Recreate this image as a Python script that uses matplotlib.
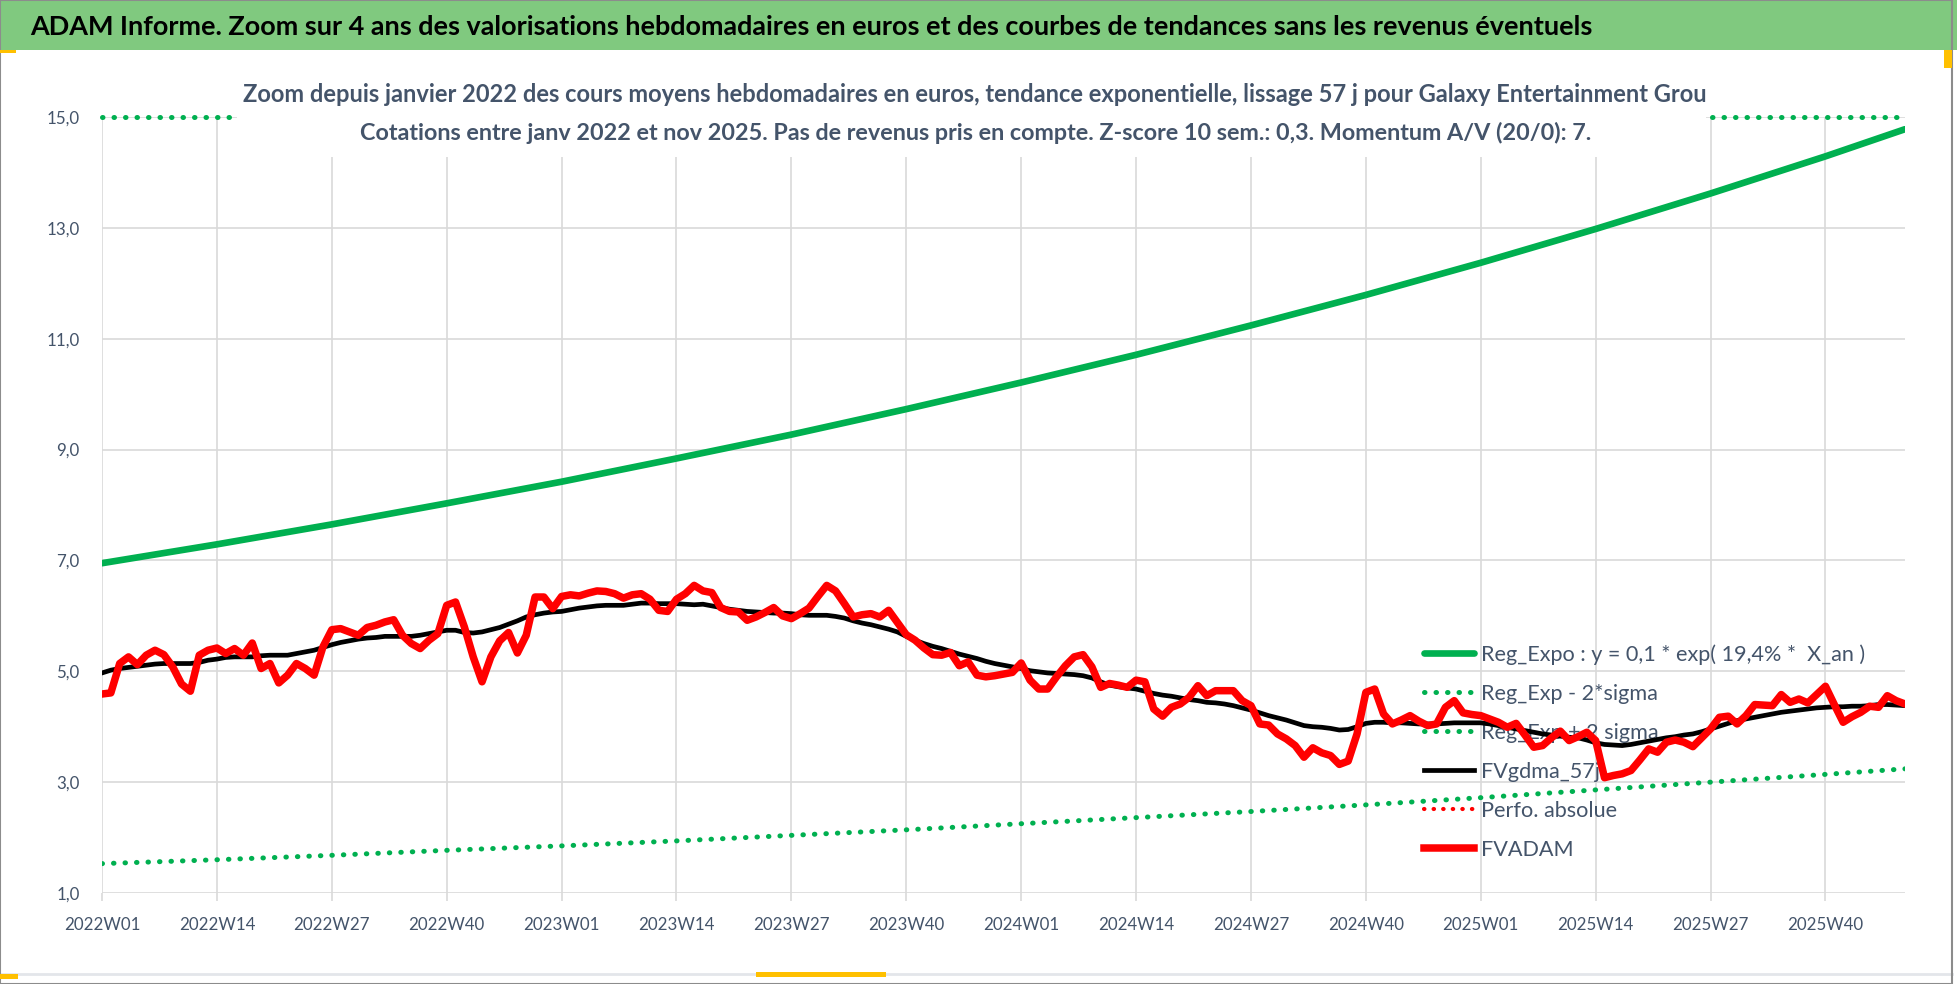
#!/usr/bin/env python
''' ADAM weekly valuation zoom chart '''
import matplotlib
matplotlib.use('Agg')
import matplotlib.pyplot as plt
from matplotlib.patches import Rectangle
import numpy as np

# weekly average prices (EUR), 2022W01 .. 2025W49
fvadam = [4.59, 4.61, 5.14, 5.26, 5.12, 5.29, 5.38, 5.30, 5.08, 4.77, 4.64, 5.29, 5.38,
          5.42, 5.32, 5.41, 5.29, 5.51, 5.05, 5.14, 4.79, 4.93, 5.14, 5.05, 4.93, 5.44,
          5.75, 5.77, 5.71, 5.65, 5.79, 5.83, 5.89, 5.93, 5.65, 5.50, 5.41, 5.56, 5.68,
          6.19, 6.25, 5.80, 5.26, 4.81, 5.26, 5.55, 5.70, 5.33, 5.65, 6.34, 6.34, 6.13,
          6.35, 6.38, 6.36, 6.41, 6.45, 6.44, 6.40, 6.32, 6.38, 6.40, 6.30, 6.10, 6.08,
          6.30, 6.40, 6.55, 6.45, 6.42, 6.15, 6.08, 6.07, 5.92, 5.98, 6.06, 6.15, 6.00,
          5.95, 6.04, 6.14, 6.35, 6.55, 6.45, 6.22, 5.98, 6.02, 6.04, 5.98, 6.10, 5.88,
          5.66, 5.56, 5.42, 5.30, 5.29, 5.34, 5.10, 5.17, 4.93, 4.90, 4.92, 4.95, 4.98,
          5.15, 4.84, 4.68, 4.68, 4.90, 5.10, 5.26, 5.30, 5.08, 4.71, 4.78, 4.75, 4.71,
          4.84, 4.81, 4.32, 4.19, 4.35, 4.41, 4.53, 4.74, 4.56, 4.65, 4.65, 4.65, 4.47,
          4.38, 4.05, 4.03, 3.87, 3.78, 3.66, 3.45, 3.62, 3.53, 3.48, 3.32, 3.38, 3.87,
          4.62, 4.68, 4.23, 4.05, 4.12, 4.20, 4.10, 4.02, 4.05, 4.35, 4.47, 4.25, 4.22,
          4.20, 4.14, 4.08, 3.99, 4.06, 3.85, 3.63, 3.66, 3.80, 3.92, 3.75, 3.82, 3.90,
          3.75, 3.08, 3.12, 3.15, 3.21, 3.40, 3.60, 3.54, 3.72, 3.76, 3.72, 3.64, 3.80,
          3.96, 4.17, 4.19, 4.05, 4.20, 4.40, 4.39, 4.38, 4.58, 4.44, 4.50, 4.43, 4.58,
          4.73, 4.40, 4.08, 4.18, 4.26, 4.37, 4.35, 4.56, 4.47, 4.41]

# 57 day smoothing
fvgdma = [4.97, 5.02, 5.05, 5.07, 5.09, 5.11, 5.13, 5.14, 5.14, 5.14, 5.14, 5.16, 5.20,
          5.22, 5.25, 5.26, 5.26, 5.26, 5.28, 5.29, 5.29, 5.29, 5.32, 5.35, 5.38, 5.43,
          5.48, 5.52, 5.55, 5.58, 5.60, 5.61, 5.63, 5.63, 5.63, 5.63, 5.65, 5.68, 5.71,
          5.74, 5.74, 5.70, 5.69, 5.71, 5.75, 5.79, 5.85, 5.91, 5.98, 6.02, 6.05, 6.07,
          6.08, 6.11, 6.14, 6.16, 6.18, 6.19, 6.19, 6.19, 6.21, 6.23, 6.23, 6.22, 6.22,
          6.22, 6.21, 6.20, 6.21, 6.18, 6.15, 6.12, 6.10, 6.08, 6.07, 6.06, 6.05, 6.05,
          6.04, 6.02, 6.01, 6.01, 6.01, 5.99, 5.96, 5.91, 5.87, 5.84, 5.80, 5.76, 5.71,
          5.63, 5.56, 5.50, 5.45, 5.41, 5.36, 5.31, 5.27, 5.23, 5.18, 5.14, 5.11, 5.08,
          5.05, 5.01, 4.99, 4.97, 4.96, 4.95, 4.94, 4.92, 4.88, 4.81, 4.75, 4.72, 4.70,
          4.68, 4.64, 4.60, 4.57, 4.55, 4.52, 4.49, 4.47, 4.44, 4.43, 4.41, 4.38, 4.34,
          4.30, 4.25, 4.20, 4.16, 4.12, 4.07, 4.02, 4.00, 3.99, 3.97, 3.94, 3.95, 4.00,
          4.06, 4.08, 4.08, 4.07, 4.07, 4.06, 4.05, 4.05, 4.05, 4.06, 4.07, 4.07, 4.07,
          4.07, 4.05, 4.02, 3.99, 3.96, 3.93, 3.90, 3.87, 3.85, 3.83, 3.81, 3.80, 3.76,
          3.71, 3.68, 3.67, 3.66, 3.68, 3.71, 3.74, 3.77, 3.80, 3.82, 3.85, 3.87, 3.91,
          3.96, 4.01, 4.06, 4.11, 4.14, 4.17, 4.20, 4.23, 4.26, 4.28, 4.30, 4.32, 4.34,
          4.35, 4.36, 4.36, 4.37, 4.37, 4.38, 4.40, 4.40, 4.39, 4.38]

# exponential trend and bands, read every 13 weeks
trend_weeks = [0, 13, 26, 39, 52, 65, 78, 91, 104, 117, 130, 143, 156, 169, 182, 195, 204]
reg_expo = [6.95, 7.29, 7.65, 8.03, 8.42, 8.84, 9.27, 9.73, 10.21, 10.71, 11.24, 11.79,
            12.37, 12.98, 13.62, 14.29, 14.78]
reg_minus = [1.53, 1.60, 1.68, 1.77, 1.85, 1.94, 2.04, 2.14, 2.25, 2.36, 2.47, 2.59,
             2.72, 2.86, 3.00, 3.14, 3.24]
# upper band is above the axis, it shows along the top at 15,0
upper_weeks = [0, 204]
reg_plus = [15.0, 15.0]

tick_labels = ['2022W01', '2022W14', '2022W27', '2022W40', '2023W01', '2023W14',
               '2023W27', '2023W40', '2024W01', '2024W14', '2024W27', '2024W40',
               '2025W01', '2025W14', '2025W27', '2025W40']
y_ticks = [1, 3, 5, 7, 9, 11, 13, 15]

TITLE = ('ADAM Informe. Zoom sur 4 ans des valorisations hebdomadaires en euros et des '
         'courbes de tendances sans les revenus éventuels')
SUB1 = ('Zoom depuis janvier 2022 des cours moyens hebdomadaires en euros, tendance '
        'exponentielle, lissage 57 j pour Galaxy Entertainment Grou')
SUB2 = ('Cotations entre janv 2022 et nov 2025. Pas de revenus pris en compte. '
        'Z-score 10 sem.: 0,3. Momentum A/V (20/0): 7.')
LBL_EXPO = 'Reg_Expo : y = 0,1 * exp( 19,4% *  X_an )'

W, H = 1958, 984
GREEN = '#00B050'
TXT = '#44546A'
GRID = '#D9D9D9'

plt.rcParams['font.family'] = ['Lato', 'DejaVu Sans']

fig = plt.figure(figsize=(W / 100, H / 100), dpi=100)
fig.patch.set_facecolor('white')
renderer = fig.canvas.get_renderer()


def fx(px):
    return px / W


def fy(py):
    return 1 - py / H


def size_for(s, width_px, weight='normal'):
    ''' font size that makes s about width_px wide '''
    t = fig.text(0, 0, s, fontsize=20, fontweight=weight)
    w = t.get_window_extent(renderer).width
    t.remove()
    return 20 * width_px / w


ax = fig.add_axes([fx(102), fy(893), fx(1905 - 102), (893 - 117) / H])
ax.set_facecolor('none')

x_red = np.arange(len(fvadam))
x_blk = np.arange(len(fvgdma))

dot = (0, (0.1, 2.2))
ax.plot(trend_weeks, reg_minus, color=GREEN, lw=3.6, ls=dot, dash_capstyle='round',
        label='Reg_Exp - 2*sigma', zorder=3)
ax.plot(upper_weeks, reg_plus, color=GREEN, lw=3.6, ls=dot, dash_capstyle='round',
        label='Reg_Exp + 2 sigma', zorder=3, clip_on=False)
ax.plot(trend_weeks, reg_expo, color=GREEN, lw=4.8, solid_capstyle='round',
        label=LBL_EXPO, zorder=4)
ax.plot(x_blk, fvgdma, color='black', lw=3.4, solid_joinstyle='round',
        label='FVgdma_57j', zorder=5)
ax.plot([], [], color='#FF0000', lw=3.0, ls=dot, dash_capstyle='round',
        label='Perfo. absolue')
ax.plot(x_red, fvadam, color='#FF0000', lw=5.4, solid_joinstyle='round',
        label='FVADAM', zorder=6)

tick_size = size_for('2022W01', 76)
ax.set_xlim(0, 204)
ax.set_ylim(1, 15)
ax.set_yticks(y_ticks)
ax.set_yticklabels(['{:.1f}'.format(v).replace('.', ',') for v in y_ticks])
ax.set_xticks(np.arange(len(tick_labels)) * 13)
ax.set_xticklabels(tick_labels)
ax.grid(True, color=GRID, lw=1.2, zorder=0)
ax.set_axisbelow(True)
for s in ax.spines.values():
    s.set_visible(False)
ax.tick_params(axis='x', colors=GRID, length=6, width=1.2, pad=11,
               labelsize=tick_size, labelcolor=TXT)
ax.tick_params(axis='y', length=0, pad=16, labelsize=tick_size, labelcolor=TXT)

# legend order as in the reference
h, l = ax.get_legend_handles_labels()
order = [2, 0, 1, 3, 4, 5]
leg_size = size_for(LBL_EXPO, 386)
leg_px = leg_size * 100 / 72


def make_legend(spacing):
    lg = ax.legend([h[i] for i in order], [l[i] for i in order], loc='center left',
                   bbox_to_anchor=(fx(1424), fy(752)), bbox_transform=fig.transFigure,
                   frameon=False, fontsize=leg_size, handlelength=50 / leg_px,
                   handletextpad=7 / leg_px, labelspacing=spacing, borderpad=0,
                   borderaxespad=0)
    for t in lg.get_texts():
        t.set_color(TXT)
    lg.set_zorder(2)
    return lg


spacing = 0.5
leg = make_legend(spacing)
fig.canvas.draw()
ys = [t.get_window_extent(renderer).y0 for t in leg.get_texts()]
pitch = (ys[0] - ys[-1]) / (len(ys) - 1)
spacing += (39 - pitch) / leg_px
leg = make_legend(spacing)

# banner
fig.patches.append(Rectangle((0, fy(50)), 1, 50 / H, transform=fig.transFigure,
                             facecolor='#80C97F', edgecolor='none', zorder=1))
fig.text(fx(30), fy(27), TITLE, ha='left', va='center',
         fontsize=size_for(TITLE, 1560, 'bold'), fontweight='bold', color='black',
         zorder=3)

# subtitle box covering the top of the plot
fig.patches.append(Rectangle((fx(237), fy(157)), fx(1706 - 237), (157 - 58) / H,
                             transform=fig.transFigure, facecolor='white',
                             edgecolor='none', zorder=2))
fig.text(fx(975), fy(94), SUB1, ha='center', va='center',
         fontsize=size_for(SUB1, 1461, 'bold'), fontweight='bold', color=TXT, zorder=3)
fig.text(fx(976), fy(133), SUB2, ha='center', va='center',
         fontsize=size_for(SUB2, 1236, 'bold'), fontweight='bold', color=TXT, zorder=3)

# frame lines and small yellow marks
fig.patches.append(Rectangle((0, 0), fx(1952), 1, transform=fig.transFigure,
                             fill=False, edgecolor='#8C8C8C', lw=1.5, zorder=5))
fig.lines.append(plt.Line2D([0, fx(1952)], [fy(974), fy(974)], transform=fig.transFigure,
                            color='#E3E6EA', lw=2, zorder=4))
for (x0, y0, w0, h0) in ((0, 974, 18, 5), (756, 972, 130, 5), (0, 50, 16, 3),
                         (1944, 50, 8, 18)):
    fig.patches.append(Rectangle((fx(x0), fy(y0 + h0)), fx(w0), h0 / H,
                                 transform=fig.transFigure, facecolor='#FFC000',
                                 edgecolor='none', zorder=5))

fig.savefig('out.png', dpi=100)
